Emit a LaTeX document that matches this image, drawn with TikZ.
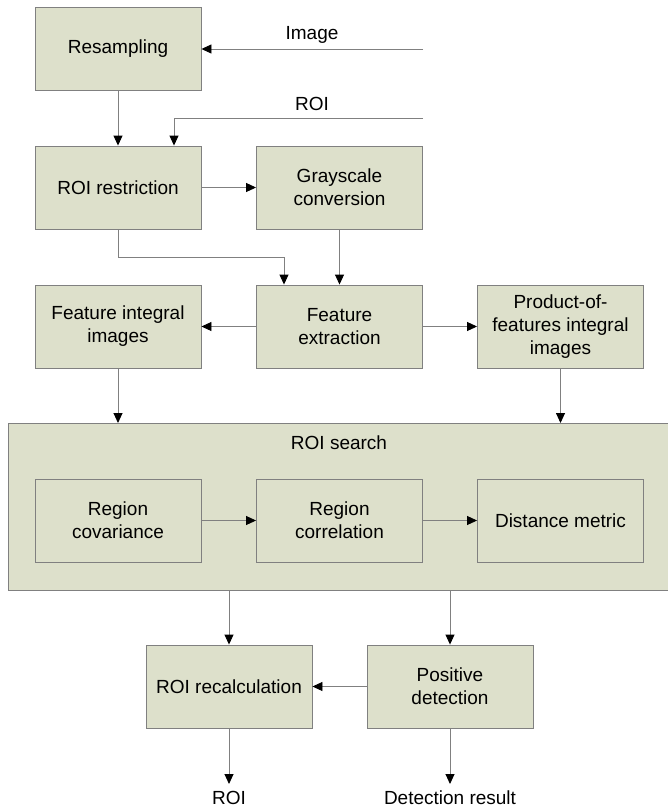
\documentclass[tikz,border=0pt]{standalone}
\usepackage{fontspec}
\setmainfont{Liberation Sans}
\usetikzlibrary{arrows.meta}
\definecolor{boxfill}{RGB}{221,224,203}
\definecolor{edge}{RGB}{128,128,128}
\begin{document}
\begin{tikzpicture}[x=1pt,y=-1pt,
  blk/.style={draw=edge, line width=0.9pt, fill=boxfill, minimum width=166pt, minimum height=83pt,
    align=center, font=\fontsize{19}{23}\selectfont, inner sep=2pt},
  lbl/.style={font=\fontsize{19}{23}\selectfont},
  conn/.style={draw=edge, line width=0.9pt, -{Triangle[length=10pt,width=9pt,color=black]}},
  ]
\useasboundingbox (0,0) rectangle (668,808);
\fill[white] (0,0) rectangle (668,808);
% big container
\node[draw=edge, line width=0.9pt, fill=boxfill, minimum width=670pt, minimum height=167pt, anchor=north west, inner sep=0pt] (search) at (7.5,423) {};
\node[lbl] (searchlbl) at (339,443) {ROI search};

\node[blk] (resamp) at (118,48.5) {Resampling};
\node[blk] (roir) at (118,187.5) {ROI restriction};
\node[blk] (gray) at (339.5,187.5) {Grayscale\\conversion};
\node[blk] (fint) at (118,326.5) {Feature integral\\images};
\node[blk] (fext) at (339.5,326.5) {Feature\\extraction};
\node[blk] (pint) at (560.5,326.5) {Product-of-\\features integral\\images};
\node[blk] (rcov) at (118,520.5) {Region\\covariance};
\node[blk] (rcor) at (339.5,520.5) {Region\\correlation};
\node[blk] (dist) at (560.5,520.5) {Distance metric};
\node[blk] (recalc) at (229,686.5) {ROI recalculation};
\node[blk] (posdet) at (450,686.5) {Positive\\detection};

\node[lbl, anchor=north, inner xsep=0pt, inner ysep=7pt] (roiout) at (229,784) {ROI};
\node[lbl, anchor=north, inner xsep=0pt, inner ysep=7pt] (detout) at (450,784) {Detection result};

\coordinate (imgin) at (423,49);
\coordinate (roiin) at (423,118);
\coordinate (roibend) at (174,118);
\coordinate (fbend) at (284,257);
\node[lbl] (imglbl) at (312,35) {Image};
\node[lbl] (roilbl) at (312,104) {ROI};

\draw[conn] (imgin) -- (resamp.east |- imgin);
\draw[conn] (resamp) -- (roir);
\draw[conn] (roiin) -- (roibend) -- (roibend |- roir.north);
\draw[conn] (roir.east) -- (gray.west);
\draw[conn] (roir.south) -- (roir.south |- fbend) -- (fbend) -- (fbend |- fext.north);
\draw[conn] (gray) -- (fext);
\draw[conn] (fext) -- (fint);
\draw[conn] (fext) -- (pint);
\draw[conn] (fint.south) -- (search.north -| fint.south);
\draw[conn] (pint.south) -- (search.north -| pint.south);
\draw[conn] (rcov) -- (rcor);
\draw[conn] (rcor) -- (dist);
\draw[conn] (search.south -| recalc.north) -- (recalc.north);
\draw[conn] (search.south -| posdet.north) -- (posdet.north);
\draw[conn] (posdet) -- (recalc);
\draw[conn] (recalc) -- (roiout);
\draw[conn] (posdet) -- (detout);
\end{tikzpicture}
\end{document}
